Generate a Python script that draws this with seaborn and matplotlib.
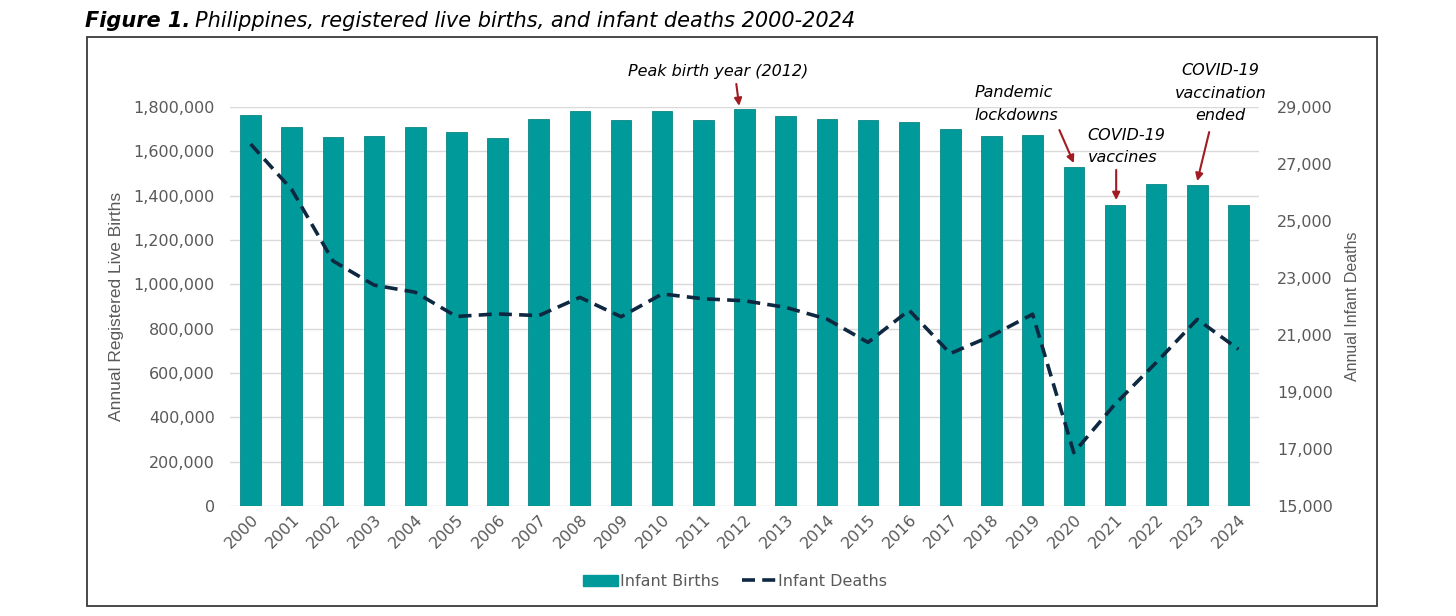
import matplotlib
matplotlib.use("Agg")
import matplotlib.pyplot as plt
from matplotlib.patches import Rectangle, Patch
from matplotlib.lines import Line2D
import numpy as np
import pandas as pd
import seaborn as sns

# data
years = [str(y) for y in range(2000, 2025)]
births = [1762000, 1708000, 1663000, 1669000, 1708000, 1686000, 1658000,
          1748000, 1781000, 1743000, 1781000, 1743000, 1790000, 1758000,
          1748000, 1743000, 1731000, 1699000, 1670000, 1675000, 1528000,
          1360000, 1451000, 1446000, 1356000]
deaths = [27700, 26100, 23600, 22750, 22500, 21650, 21740, 21680, 22320,
          21640, 22440, 22270, 22200, 21970, 21560, 20740, 21870, 20350,
          20970, 21730, 16870, 18570, 20030, 21550, 20500]

TEAL = "#009A9A"
NAVY = "#0E2841"
RED = "#A01C22"
GREY = "#595959"

sns.set_style("white")
plt.rcParams["font.family"] = ["DejaVu Sans"]

df = pd.DataFrame({"year": years, "births": births, "deaths": deaths})
df["pos"] = np.arange(len(df))

fig = plt.figure(figsize=(14.56, 6.16), dpi=100)
ax = fig.add_axes([0.158, 0.1786, 0.7067, 0.6477])

sns.barplot(data=df, x="year", y="births", color=TEAL, width=0.5,
            saturation=1, edgecolor="#0B8585", linewidth=0.6, ax=ax)
ax.set_xlim(-0.5, len(years) - 0.5)
ax.set_ylim(0, 1800000)
ax.set_yticks(range(0, 1800001, 200000))
ax.set_yticklabels([f"{v:,}" for v in range(0, 1800001, 200000)])
ax.yaxis.grid(True, color="#D9D9D9", lw=1)
ax.set_axisbelow(True)
for s in ax.spines.values():
    s.set_visible(False)
ax.tick_params(axis="y", length=0, pad=11, labelsize=11.5, labelcolor=GREY)
ax.tick_params(axis="x", length=0, pad=4, labelsize=11.5, labelcolor=GREY)
plt.setp(ax.get_xticklabels(), rotation=45, ha="right", rotation_mode="anchor")
ax.set_xlabel("")
ax.set_ylabel("Annual Registered Live Births", fontsize=12.5, color=GREY,
              family="Liberation Sans", labelpad=7)

ax2 = ax.twinx()
sns.lineplot(data=df, x="pos", y="deaths", color=NAVY, lw=2.6, ax=ax2)
ax2.lines[0].set_dashes([3.6, 2.0])
ax2.set_ylim(15000, 29000)
ax2.set_yticks(range(15000, 29001, 2000))
ax2.set_yticklabels([f"{v:,}" for v in range(15000, 29001, 2000)])
for s in ax2.spines.values():
    s.set_visible(False)
ax2.tick_params(axis="y", length=0, pad=13, labelsize=11.5, labelcolor=GREY)
ax2.set_ylabel("Annual Infant Deaths", fontsize=11.5, color=GREY,
               family="Liberation Sans", labelpad=9)
ax2.set_xlabel("")

# annotations (left-axis data coordinates)
notes = [
    ("Peak birth year (2012)", (11.36, 1962000), "center", (11.8, 1904000), (11.87, 1805000)),
    ("Pandemic\nlockdowns", (17.58, 1813000), "left", (19.65, 1696000), (20.0, 1547000)),
    ("COVID-19\nvaccines", (20.33, 1622000), "left", (21.03, 1516000), (21.03, 1380000)),
    ("COVID-19\nvaccination\nended", (23.56, 1863000), "center", (23.29, 1687000), (23.0, 1466000)),
]
for text, tpos, ha, start, end in notes:
    ax2.text(tpos[0], tpos[1], text, transform=ax.transData, ha=ha, va="center",
             style="italic", fontsize=11.5, color="black", linespacing=1.65,
             clip_on=False, multialignment="center" if ha == "center" else "left")
    ax2.annotate("", xy=end, xytext=start, xycoords=ax.transData,
                 textcoords=ax.transData, annotation_clip=False,
                 arrowprops=dict(arrowstyle="-|>", color=RED, lw=1.5,
                                 mutation_scale=11, shrinkA=0, shrinkB=0))

handles = [Patch(facecolor=TEAL, edgecolor=TEAL),
           Line2D([0], [0], color=NAVY, lw=2.6, dashes=[3.6, 2.0])]
fig.legend(handles, ["Infant Births", "Infant Deaths"], loc="center",
           bbox_to_anchor=(0.505, 0.056), ncol=2, frameon=False,
           fontsize=11.5, labelcolor=GREY, handlelength=2.2,
           handletextpad=0.1, columnspacing=1.4, handleheight=0.75)

# outer frame
fig.patches.append(Rectangle((0.0598, 0.0162), 0.886, 0.9238,
                             transform=fig.transFigure, fill=False,
                             edgecolor="#3A3A3A", lw=1.3))

# title: bold italic lead + italic rest
t1 = fig.text(0.0584, 0.966, "Figure 1.", fontsize=15, weight="bold",
              style="italic", color="black", va="center")
fig.canvas.draw()
bb = t1.get_window_extent().transformed(fig.transFigure.inverted())
fig.text(bb.x1 + 0.003, 0.966,
         "Philippines, registered live births, and infant deaths 2000-2024",
         fontsize=15, style="italic", color="black", va="center")

fig.savefig("out.png", dpi=100)
